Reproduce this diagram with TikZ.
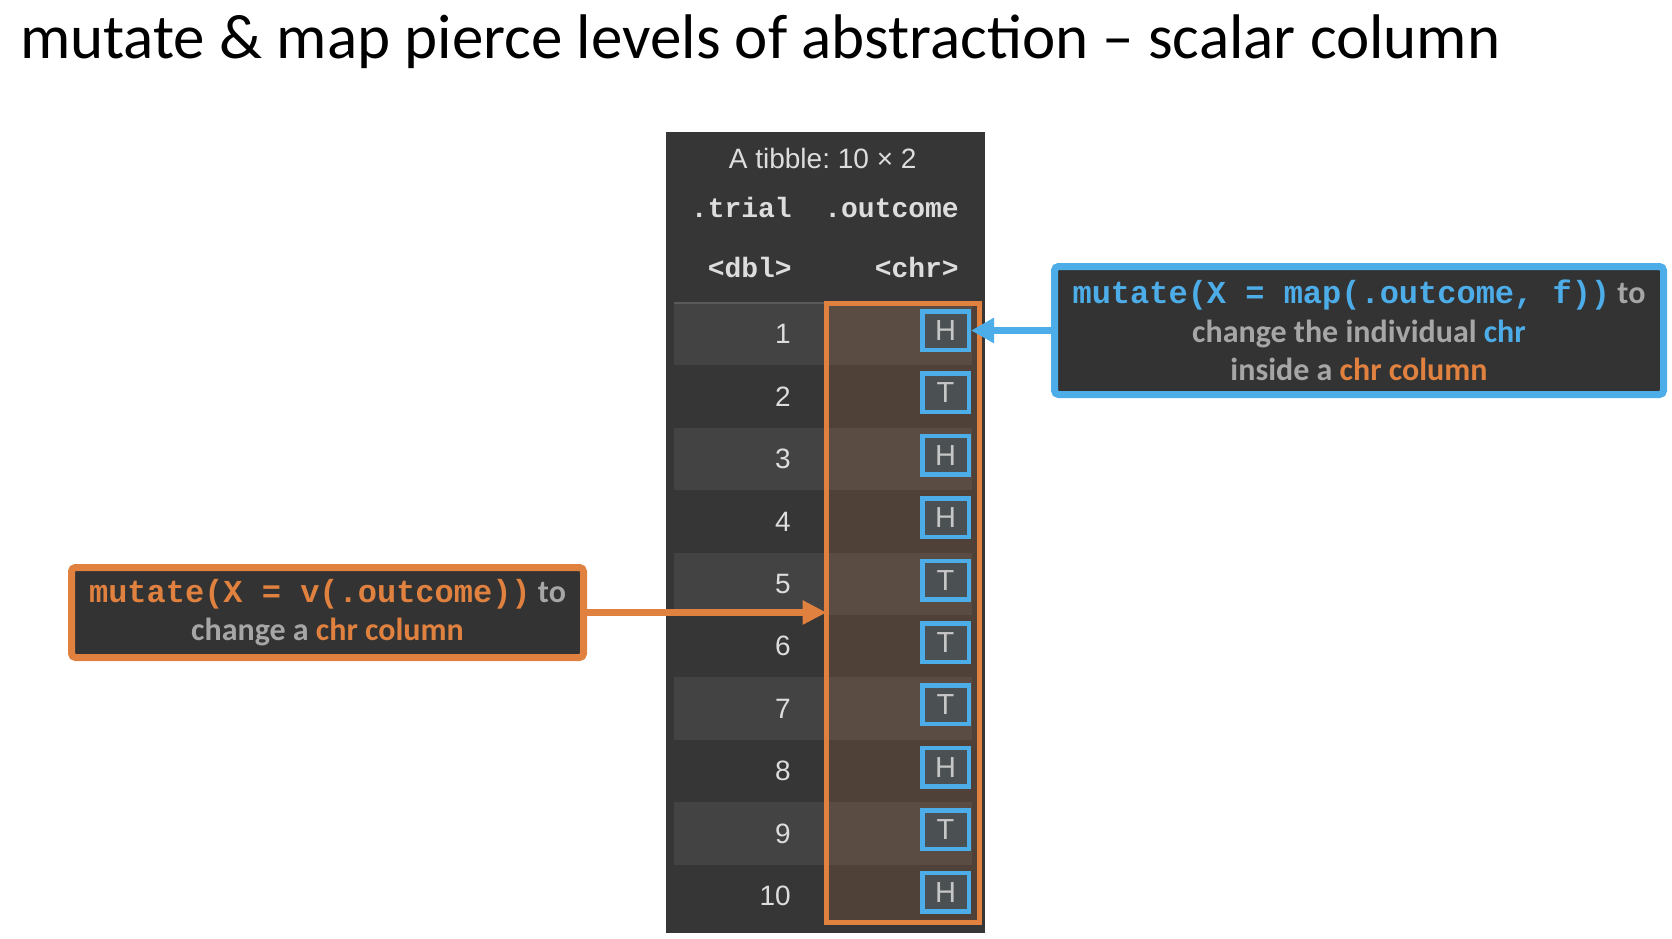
\documentclass[tikz,border=0pt]{standalone}
\usepackage{fontspec}
\setmainfont{Carlito}
\newfontfamily\codefont{Liberation Mono}
\newfontfamily\tblfont{Liberation Sans}
\usetikzlibrary{positioning,calc,arrows.meta}
\definecolor{tblbg}{HTML}{363636}
\definecolor{stripe}{HTML}{434343}
\definecolor{hline}{HTML}{5A5A5A}
\definecolor{boxbg}{HTML}{333333}
\definecolor{rorange}{HTML}{E0813F}
\definecolor{rblue}{HTML}{4DADE8}
\definecolor{txtgray}{HTML}{A6A6A6}
\definecolor{cellbg}{HTML}{4B5052}
\definecolor{cellgray}{HTML}{C6C6C6}
\definecolor{numgray}{HTML}{DDDDDD}

\begin{document}
\begin{tikzpicture}[
    x=1pt,y=-1pt,
    inner sep=0pt
  ]
\def\rh{62.4}
\def\rw{298}
\def\mono#1{{\codefont #1}}

\useasboundingbox (0,0) rectangle (1672,938);

\node[anchor=base west,font=\fontsize{63}{70}\selectfont] (title) at (20,58) {mutate \& map pierce levels of abstraction – scalar column};

\node[fill=tblbg,minimum width=319,minimum height=801,anchor=north west] (tbl) at (666,132) {};

\tikzstyle{hdr}=[font=\codefont\bfseries\fontsize{28}{30}\selectfont,text=numgray,anchor=base east];
\node[font=\tblfont\frenchspacing\fontsize{28}{30}\selectfont,text=numgray,anchor=base] (caption) at ($ (tbl.north) + (-3,36) $) {A tibble: 10 × 2};
\node[hdr] (htrial) at (792,217) {.trial};
\node[hdr] (houtc) at (959,217) {.outcome};
\node[hdr] (hdbl) at (792,277) {<dbl>};
\node[hdr] (hchr) at (959,277) {<chr>};

\tikzstyle{row}=[minimum width=\rw,minimum height=\rh,outer sep=0pt,node distance=0pt];
\tikzstyle{odd}=[fill=stripe];
\node[row,odd,anchor=north west] (r1) at (674,303) {};
\node[row,below=of r1] (r2) {};
\node[row,odd,below=of r2] (r3) {};
\node[row,below=of r3] (r4) {};
\node[row,odd,below=of r4] (r5) {};
\node[row,below=of r5] (r6) {};
\node[row,odd,below=of r6] (r7) {};
\node[row,below=of r7] (r8) {};
\node[row,odd,below=of r8] (r9) {};
\node[row,below=of r9] (r10) {};

\draw[line width=2pt,hline] (r1.north west) -- (r1.north east);

\tikzstyle{num}=[font=\tblfont\fontsize{28}{30}\selectfont,text=numgray,anchor=east];
\node[num] at ($ (r1.west) + (117,0) $) (n1) {1};
\node[num] at ($ (r2.west) + (117,0) $) (n2) {2};
\node[num] at ($ (r3.west) + (117,0) $) (n3) {3};
\node[num] at ($ (r4.west) + (117,0) $) (n4) {4};
\node[num] at ($ (r5.west) + (117,0) $) (n5) {5};
\node[num] at ($ (r6.west) + (117,0) $) (n6) {6};
\node[num] at ($ (r7.west) + (117,0) $) (n7) {7};
\node[num] at ($ (r8.west) + (117,0) $) (n8) {8};
\node[num] at ($ (r9.west) + (117,0) $) (n9) {9};
\node[num] at ($ (r10.west) + (117,0) $) (n10) {10};

% the chr column
\node[draw=rorange,line width=5pt,fill=rorange,fill opacity=.15,minimum width=153,minimum height=619,outer sep=0pt,anchor=north west] (col) at (826.5,303) {};

\tikzstyle{cell}=[draw=rblue,line width=4.5pt,fill=cellbg,minimum width=46.5,minimum height=38.5,font=\tblfont\fontsize{29}{30}\selectfont,text=cellgray];
\node[cell] at ($ (r1.east) + (-26.5,-3.7) $) (c1) {H};
\node[cell] at ($ (r2.east) + (-26.5,-3.7) $) (c2) {T};
\node[cell] at ($ (r3.east) + (-26.5,-3.7) $) (c3) {H};
\node[cell] at ($ (r4.east) + (-26.5,-3.7) $) (c4) {H};
\node[cell] at ($ (r5.east) + (-26.5,-3.7) $) (c5) {T};
\node[cell] at ($ (r6.east) + (-26.5,-3.7) $) (c6) {T};
\node[cell] at ($ (r7.east) + (-26.5,-3.7) $) (c7) {T};
\node[cell] at ($ (r8.east) + (-26.5,-3.7) $) (c8) {H};
\node[cell] at ($ (r9.east) + (-26.5,-3.7) $) (c9) {T};
\node[cell] at ($ (r10.east) + (-26.5,-3.7) $) (c10) {H};

\tikzstyle{callout}=[line width=7pt,fill=boxbg,rounded corners=4pt,align=center,text=txtgray,font=\bfseries\fontsize{32}{38.5}\selectfont,outer sep=0pt];
\node[callout,draw=rblue,minimum width=609,minimum height=128] (callmap) at (1359,330.5) {\textcolor{rblue}{\mono{mutate(X = map(.outcome, f))}} to\\change the individual \textcolor{rblue}{chr}\\inside a \textcolor{rorange}{chr column}};
\node[callout,draw=rorange,minimum width=512,minimum height=90] (callv) at (327.5,612.5) {\textcolor{rorange}{\mono{mutate(X = v(.outcome))}} to\\change a \textcolor{rorange}{chr column}};

\draw[-{Triangle[length=23pt,width=24pt]},line width=6.5pt,rblue] (callmap.west) -- (c1.east);
\draw[-{Triangle[length=24pt,width=23pt]},line width=6.5pt,rorange] (callv.east) -- (col.west);

\end{tikzpicture}
\end{document}
